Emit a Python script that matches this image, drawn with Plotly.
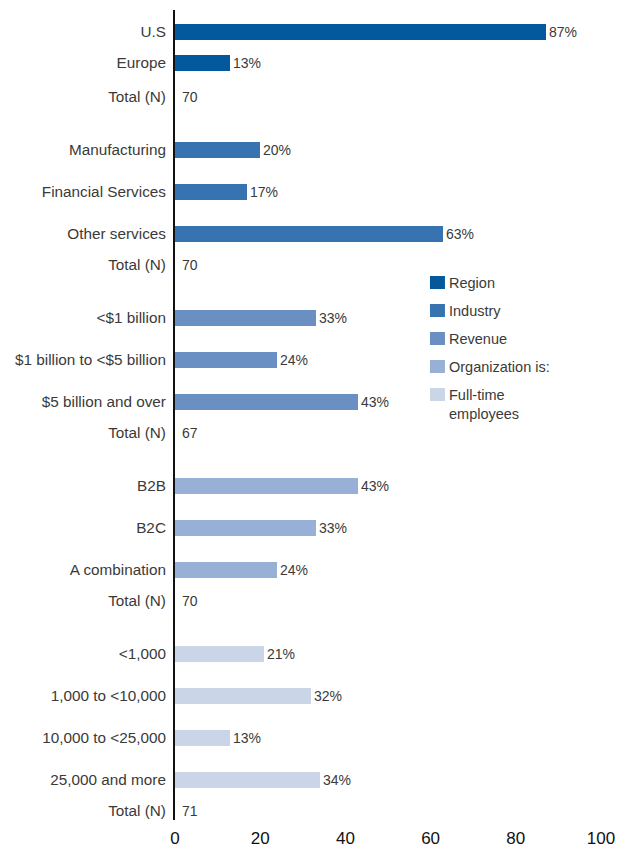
import plotly.graph_objects as go

# Survey respondent profile, one block per breakdown
group_names = ["Region", "Industry", "Revenue", "Organization is:", "Full-time<br>employees"]

region_labels = ["U.S", "Europe"]
region_values = [87, 13]
region_total = 70

industry_labels = ["Manufacturing", "Financial Services", "Other services"]
industry_values = [20, 17, 63]
industry_total = 70

revenue_labels = ["<$1 billion", "$1 billion to <$5 billion", "$5 billion and over"]
revenue_values = [33, 24, 43]
revenue_total = 67

org_labels = ["B2B", "B2C", "A combination"]
org_values = [43, 33, 24]
org_total = 70

employee_labels = ["<1,000", "1,000 to <10,000", "10,000 to <25,000", "25,000 and more"]
employee_values = [21, 32, 13, 34]
employee_total = 71

total_label = "Total (N)"
x_ticks = [0, 20, 40, 60, 80, 100]

colors = ["#03599c", "#3673b0", "#6a8fc2", "#98b0d6", "#cbd5e8"]

groups = [
    (region_labels, region_values, region_total),
    (industry_labels, industry_values, industry_total),
    (revenue_labels, revenue_values, revenue_total),
    (org_labels, org_values, org_total),
    (employee_labels, employee_values, employee_total),
]

# Vertical layout (y axis in pixels from the top of the plot area)
FIRST_ROW = 22
ITEM_STEP = [31, 42, 42, 42, 42]
TOTAL_STEP = [34, 31, 31, 31, 31]
GROUP_GAP = 53
BAR_WIDTH = 16

# Legend block placement (x in axis units, y in the pixel-based y axis)
LEGEND_X = 59.85
LEGEND_TOP = 272.5
LEGEND_STEP = 28
LEGEND_LINE = 19

FONT = "Liberation Sans, Arial, sans-serif"
TEXT_COLOR = "#3a3a3a"


def esc(s):
    return s.replace("<", "&lt;")


fig = go.Figure()
tick_pos, tick_text = [], []
annotations, shapes = [], []

pos = FIRST_ROW
for gi, (labels, values, total) in enumerate(groups):
    if gi > 0:
        pos += GROUP_GAP
    ys = []
    for i, lab in enumerate(labels):
        if i > 0:
            pos += ITEM_STEP[gi]
        ys.append(pos)
        tick_pos.append(pos)
        tick_text.append(esc(lab))
    pos += TOTAL_STEP[gi]
    tick_pos.append(pos)
    tick_text.append(total_label)

    fig.add_trace(go.Bar(
        x=values,
        y=ys,
        orientation="h",
        width=BAR_WIDTH,
        name=group_names[gi],
        showlegend=False,
        marker=dict(color=colors[gi], line=dict(width=0)),
        text=[f"{v}%" for v in values],
        textposition="outside",
        textfont=dict(family=FONT, size=14, color=TEXT_COLOR),
        cliponaxis=False,
        hoverinfo="skip",
    ))

    # Sample size written next to the axis
    annotations.append(dict(
        x=0, y=pos, xref="x", yref="y",
        text=str(total), showarrow=False,
        xanchor="left", yanchor="middle", xshift=5,
        font=dict(family=FONT, size=14, color=TEXT_COLOR),
    ))

# Legend: colour swatch + group name
for gi, name in enumerate(group_names):
    cy = LEGEND_TOP + gi * LEGEND_STEP
    shapes.append(dict(
        type="rect", xref="x", yref="y",
        xsizemode="pixel", xanchor=LEGEND_X, x0=0, x1=15,
        ysizemode="pixel", yanchor=cy, y0=-6.5, y1=6.5,
        fillcolor=colors[gi], line=dict(width=0),
    ))
    n_lines = name.count("<br>") + 1
    annotations.append(dict(
        x=LEGEND_X, y=cy, xref="x", yref="y",
        text=name, showarrow=False, align="left",
        xanchor="left", yanchor="middle", xshift=17,
        yshift=-(n_lines - 1) * LEGEND_LINE / 2,
        font=dict(family=FONT, size=14.5, color=TEXT_COLOR),
    ))

fig.update_layout(
    width=626,
    height=848,
    margin=dict(l=175, r=25, t=10, b=28),
    plot_bgcolor="white",
    paper_bgcolor="white",
    font=dict(family=FONT, size=14, color=TEXT_COLOR),
    bargap=0,
    showlegend=False,
    annotations=annotations,
    shapes=shapes,
    xaxis=dict(
        range=[0, 100],
        tickvals=x_ticks,
        showgrid=False, zeroline=False, showline=False,
        ticks="", ticklabelstandoff=6,
        tickfont=dict(family=FONT, size=17, color="#111111"),
        automargin=False,
        fixedrange=True,
    ),
    yaxis=dict(
        range=[810, 0],
        tickvals=tick_pos,
        ticktext=tick_text,
        showgrid=False, zeroline=False,
        showline=True, linecolor="#111111", linewidth=2,
        ticks="", ticklabelstandoff=4,
        tickfont=dict(family=FONT, size=15.3, color=TEXT_COLOR),
        automargin=False,
        fixedrange=True,
    ),
)

fig.write_html("out.html")
